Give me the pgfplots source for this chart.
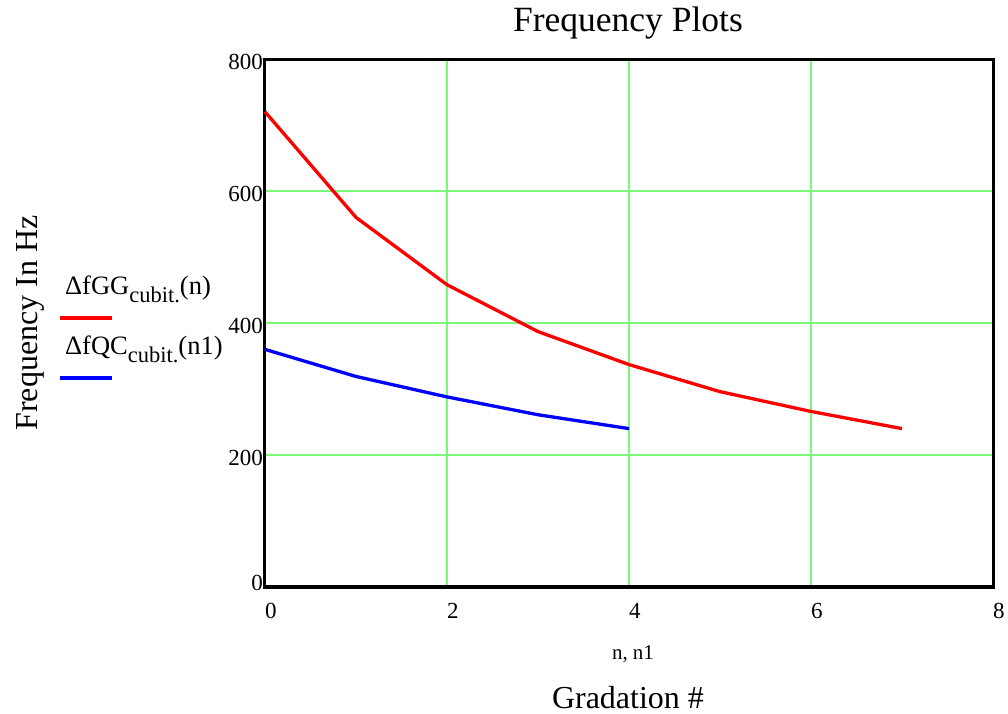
\documentclass[border=0pt]{standalone}
\usepackage{fontspec}
\setmainfont{Liberation Serif}
\usepackage{pgfplots}
\usepackage{pgfplotstable}
\pgfplotsset{compat=1.18}

\definecolor{gridgreen}{RGB}{120,250,120}

% gradation number vs frequency (Hz)
\pgfplotstableread{
n f
0 720
1 560
2 458
3 387
4 337
5 296
6 266
7 240
}\fGGtab

\pgfplotstableread{
n f
0 360
1 319
2 288
3 261
4 240
}\fQCtab

\begin{document}
\begin{tikzpicture}
\begin{axis}[
  scale only axis, width=728bp, height=528bp,
  xmin=0, xmax=8, ymin=0, ymax=800,
  xtick={0,2,4,6,8}, ytick={200,400,600,800},
  extra y ticks={0},
  extra y tick style={grid=none, yticklabel style={yshift=7bp}},
  grid=major,
  grid style={gridgreen, line width=1.6bp},
  major grid style={gridgreen, line width=1.6bp},
  major tick length=0pt,
  axis line style={black, line width=3bp},
  tick label style={font=\fontsize{23bp}{23bp}\selectfont},
  /pgf/number format/assume math mode=true,
  xticklabel style={anchor=north west, inner sep=0pt, yshift=-16bp},
  yticklabel style={anchor=east, inner sep=0pt, xshift=-2bp, yshift=-3bp},
  clip=false,
]
\addplot[red, line width=3.3bp, line join=round] table[x=n, y=f] {\fGGtab};
\addplot[blue, line width=3.3bp, line join=round] table[x=n, y=f] {\fQCtab};
\end{axis}

\node[anchor=base, inner sep=0pt, font=\fontsize{35.5bp}{35.5bp}\selectfont] at (363bp,555bp) {Frequency Plots};
\node[anchor=base, inner sep=0pt, font=\fontsize{21bp}{21bp}\selectfont] at (368bp,-72bp) {n, n1};
\node[anchor=base, inner sep=0pt, font=\fontsize{32bp}{32bp}\selectfont] at (363bp,-121bp) {Gradation \#};
\node[anchor=base, inner sep=0pt, rotate=90, font=\fontsize{32bp}{32bp}\selectfont] at (-227bp,264bp) {Frequency In Hz};

% legend
\draw[red, line width=3.3bp] (-205bp,269bp) -- (-153bp,269bp);
\node[anchor=base west, inner sep=0pt, font=\fontsize{26.5bp}{26.5bp}\selectfont] at (-200bp,292bp)
  {ΔfGG\raisebox{-8bp}{\fontsize{22.5bp}{22.5bp}\selectfont cubit.}(n)};
\draw[blue, line width=3.3bp] (-205bp,209bp) -- (-153bp,209bp);
\node[anchor=base west, inner sep=0pt, font=\fontsize{26.5bp}{26.5bp}\selectfont] at (-200bp,232bp)
  {ΔfQC\raisebox{-8bp}{\fontsize{22.5bp}{22.5bp}\selectfont cubit.}(n1)};

\pgfresetboundingbox
\path[use as bounding box] (-265bp,-127bp) rectangle (743bp,587bp);
\end{tikzpicture}
\end{document}
